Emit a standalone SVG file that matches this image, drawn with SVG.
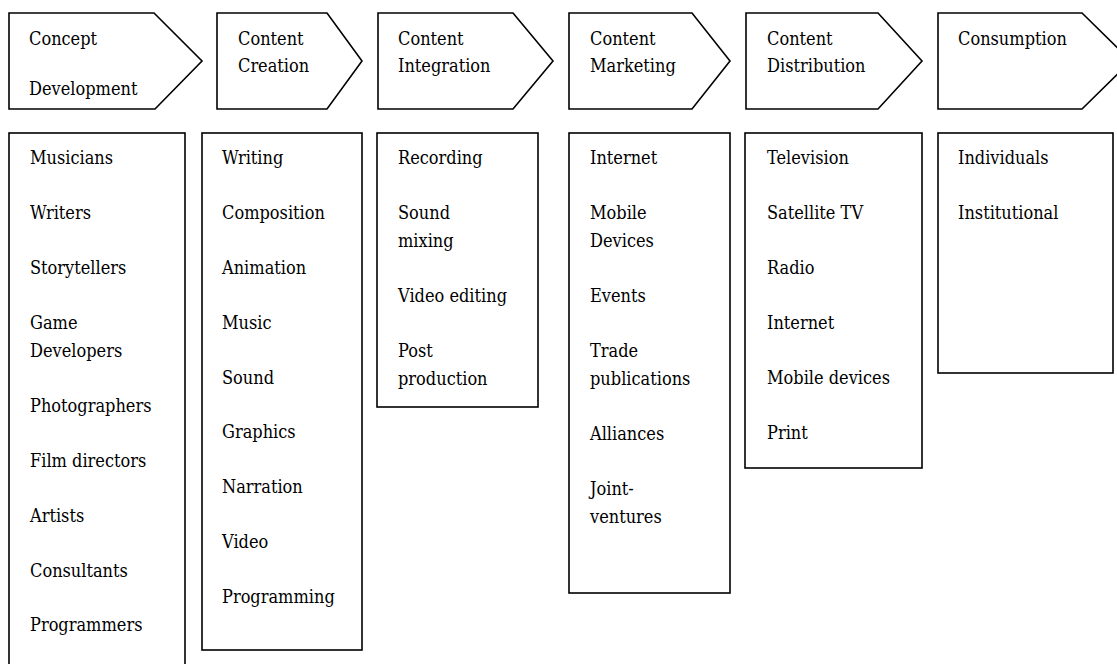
<svg xmlns="http://www.w3.org/2000/svg" width="1117" height="664" viewBox="0 0 1117 664">
<style>
.shape{fill:#fff;stroke:#000;stroke-width:1.6}
.t{font-family:'DejaVu Serif',serif;font-size:18px;fill:#000}
</style>
<rect width="1117" height="664" fill="#fff"/>
<g class="t">
<g id="head1"><polygon class="shape" points="9,13 154,13 202,61 155,109 9,109"/><g transform="translate(29,0) scale(0.9,1)"><text y="45">Concept</text><text y="95">Development</text></g></g>
<g id="head2"><polygon class="shape" points="217,13 327,13 362,61 327,109 217,109"/><g transform="translate(238,0) scale(0.9,1)"><text y="45">Content</text><text y="72">Creation</text></g></g>
<g id="head3"><polygon class="shape" points="378,13 513,13 553,61 513,109 378,109"/><g transform="translate(398,0) scale(0.9,1)"><text y="45">Content</text><text y="72">Integration</text></g></g>
<g id="head4"><polygon class="shape" points="569,13 692,13 730,61 692,109 569,109"/><g transform="translate(590,0) scale(0.9,1)"><text y="45">Content</text><text y="72">Marketing</text></g></g>
<g id="head5"><polygon class="shape" points="746,13 878,13 922,61 878,109 746,109"/><g transform="translate(767,0) scale(0.9,1)"><text y="45">Content</text><text y="72">Distribution</text></g></g>
<g id="head6"><polygon class="shape" points="938,13 1082,13 1131,61 1082,109 938,109"/><g transform="translate(958,0) scale(0.9,1)"><text y="45">Consumption</text></g></g>
<g id="box1"><rect class="shape" x="9" y="133" width="176" height="560"/>
<g transform="translate(30,0) scale(0.9,1)"><text y="164">Musicians</text><text y="219">Writers</text><text y="274">Storytellers</text><text y="329">Game</text><text y="357">Developers</text><text y="412">Photographers</text><text y="467">Film directors</text><text y="522">Artists</text><text y="577">Consultants</text><text y="631">Programmers</text></g></g>
<g id="box2"><rect class="shape" x="202" y="133" width="160" height="517"/>
<g transform="translate(222,0) scale(0.9,1)"><text y="164">Writing</text><text y="219">Composition</text><text y="274">Animation</text><text y="329">Music</text><text y="384">Sound</text><text y="438">Graphics</text><text y="493">Narration</text><text y="548">Video</text><text y="603">Programming</text></g></g>
<g id="box3"><rect class="shape" x="377" y="133" width="161" height="274"/>
<g transform="translate(398,0) scale(0.9,1)"><text y="164">Recording</text><text y="219">Sound</text><text y="247">mixing</text><text y="302">Video editing</text><text y="357">Post</text><text y="385">production</text></g></g>
<g id="box4"><rect class="shape" x="569" y="133" width="161" height="460"/>
<g transform="translate(590,0) scale(0.9,1)"><text y="164">Internet</text><text y="219">Mobile</text><text y="247">Devices</text><text y="302">Events</text><text y="357">Trade</text><text y="385">publications</text><text y="440">Alliances</text><text y="495">Joint-</text><text y="523">ventures</text></g></g>
<g id="box5"><rect class="shape" x="745" y="133" width="177" height="335"/>
<g transform="translate(767,0) scale(0.9,1)"><text y="164">Television</text><text y="219">Satellite TV</text><text y="274">Radio</text><text y="329">Internet</text><text y="384">Mobile devices</text><text y="439">Print</text></g></g>
<g id="box6"><rect class="shape" x="938" y="133" width="175" height="240"/>
<g transform="translate(958,0) scale(0.9,1)"><text y="164">Individuals</text><text y="219">Institutional</text></g></g>
</g>
<g id="connectors"></g>
</svg>
